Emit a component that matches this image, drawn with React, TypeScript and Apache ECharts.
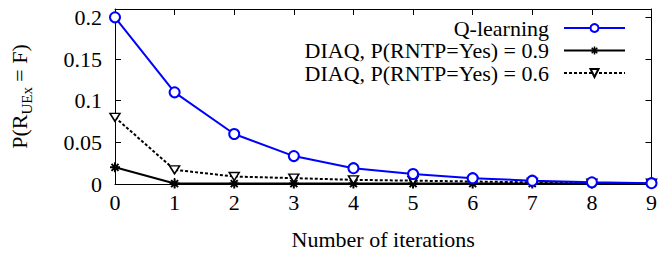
import React, { useEffect, useRef } from "react";
import * as echarts from "echarts";

const iterations = [0, 1, 2, 3, 4, 5, 6, 7, 8, 9];
const qLearning = [0.2, 0.11, 0.06, 0.0335, 0.019, 0.012, 0.007, 0.004, 0.002, 0.001];
const diaq09 = [0.02, 0.0005, 0.0005, 0.0005, 0.0005, 0.0005, 0.0005, 0.0005, 0.0005, 0.0005];
const diaq06 = [0.08, 0.017, 0.009, 0.007, 0.005, 0.004, 0.003, 0.002, 0.001, 0.001];
const seriesNames = ["Q-learning", "DIAQ, P(RNTP=Yes) = 0.9", "DIAQ, P(RNTP=Yes) = 0.6"];

const FONT = "Liberation Serif";
const STAR = "path://M0,5 L10,5 M5,0 L5,10 M1.5,1.5 L8.5,8.5 M1.5,8.5 L8.5,1.5";

export default function App() {
  const ref = useRef<HTMLDivElement>(null);
  useEffect(() => {
    if (!ref.current) return;
    const chart = echarts.init(ref.current, undefined, { renderer: "svg" });
    const pts = (vals: number[]) => iterations.map((x, i) => [x, vals[i]]);
    const frameAxis = {
      axisLine: { show: true, onZero: false, lineStyle: { color: "#000", width: 1 } },
      axisTick: { show: true, inside: true, length: 6, lineStyle: { color: "#000", width: 1 } },
      splitLine: { show: false },
    };
    chart.setOption({
      animation: false,
      textStyle: { fontFamily: FONT },
      grid: { left: 112, right: 6, top: 9, bottom: 69 },
      legend: {
        orient: "vertical",
        align: "right",
        right: 34,
        top: 17,
        itemWidth: 61,
        itemHeight: 10,
        itemGap: 0.5,
        padding: 0,
        data: [
          { name: seriesNames[0] },
          { name: seriesNames[1], itemStyle: { borderWidth: 1.5 } },
          { name: seriesNames[2] },
        ],
        textStyle: { fontFamily: FONT, fontSize: 22, color: "#000", lineHeight: 22, padding: [0, 10, 0, 0] },
      },
      xAxis: [
        {
          type: "value",
          min: 0,
          max: 9,
          interval: 1,
          name: "Number of iterations",
          nameLocation: "middle",
          nameGap: 44,
          nameTextStyle: { fontFamily: FONT, fontSize: 22, color: "#000" },
          axisLabel: { fontFamily: FONT, fontSize: 22, color: "#000", margin: 7 },
          ...frameAxis,
        },
        {
          type: "value",
          position: "top",
          min: 0,
          max: 9,
          interval: 1,
          axisLabel: { show: false },
          ...frameAxis,
        },
      ],
      yAxis: [
        {
          type: "value",
          min: 0,
          max: 0.21,
          interval: 0.05,
          name: "{a|P(R}{b|UEx}{a| = F)}",
          nameLocation: "middle",
          nameGap: 85,
          nameRotate: 90,
          nameTextStyle: {
            fontFamily: FONT,
            fontSize: 22,
            color: "#000",
            rich: {
              a: { fontFamily: FONT, fontSize: 22, color: "#000", verticalAlign: "middle" },
              b: { fontFamily: FONT, fontSize: 15, color: "#000", verticalAlign: "bottom", padding: [0, 0, -4, 0] },
            },
          },
          axisLabel: { fontFamily: FONT, fontSize: 22, color: "#000", margin: 13, showMaxLabel: false },
          ...frameAxis,
        },
        {
          type: "value",
          position: "right",
          min: 0,
          max: 0.21,
          interval: 0.05,
          axisLabel: { show: false },
          ...frameAxis,
        },
      ],
      series: [
        {
          name: seriesNames[0],
          type: "line",
          data: pts(qLearning),
          symbol: "circle",
          symbolSize: 10,
          lineStyle: { color: "#0000ff", width: 2 },
          itemStyle: { color: "#ffffff", borderColor: "#0000ff", borderWidth: 2 },
          z: 3,
        },
        {
          name: seriesNames[1],
          type: "line",
          data: pts(diaq09),
          symbol: STAR,
          symbolSize: 10,
          lineStyle: { color: "#000", width: 2 },
          itemStyle: { color: "transparent", borderColor: "#000", borderWidth: 2 },
          z: 2,
        },
        {
          name: seriesNames[2],
          type: "line",
          data: pts(diaq06),
          symbol: "triangle",
          symbolRotate: 180,
          symbolSize: [10, 8],
          lineStyle: { color: "#000", width: 2, type: [3, 2] },
          itemStyle: { color: "#ffffff", borderColor: "#000", borderWidth: 1.5 },
          z: 2,
        },
      ],
    });
    return () => chart.dispose();
  }, []);
  return (
    <div
      ref={ref}
      style={{ position: "fixed", left: 0, top: 0, width: 660, height: 255, background: "#fff" }}
    />
  );
}
